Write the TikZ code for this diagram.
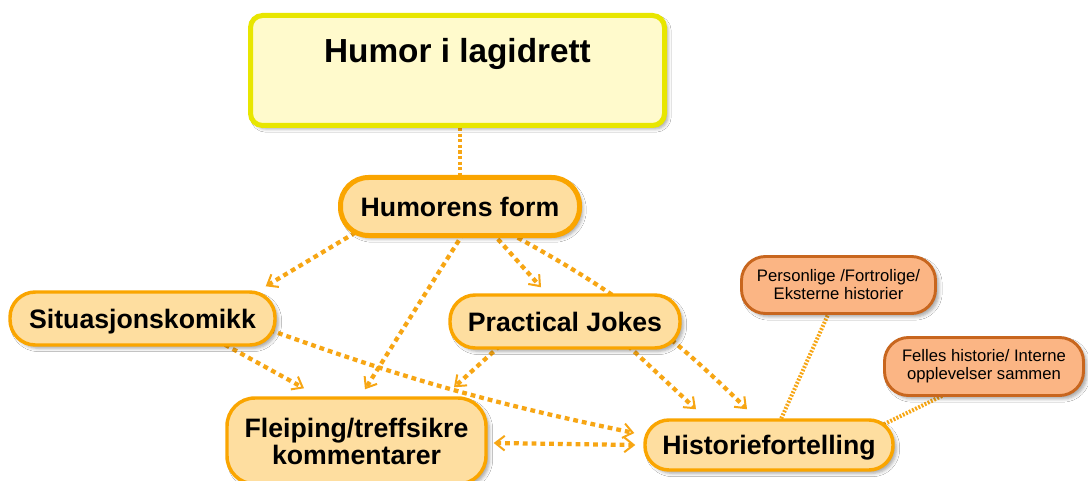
\documentclass[tikz,border=0pt]{standalone}
\usepackage{fontspec}
\setmainfont{Liberation Sans}
\usetikzlibrary{arrows.meta,shadows.blur,backgrounds}

\definecolor{ttlline}{RGB}{232,230,0}
\definecolor{ttlfill}{RGB}{255,250,204}
\definecolor{orline}{RGB}{250,165,0}
\definecolor{orfill}{RGB}{254,222,160}
\definecolor{conn}{RGB}{247,166,20}
\definecolor{brline}{RGB}{200,102,30}
\definecolor{brfill}{RGB}{251,181,132}

\tikzset{
  softshadow/.style={blur shadow={shadow xshift=2.5pt,shadow yshift=-2.5pt,shadow blur radius=2.5pt,shadow opacity=35}},
  titlebox/.style={draw=ttlline, fill=ttlfill, line width=3.75pt, rounded corners=9pt,
    inner sep=0pt, softshadow, font=\fontsize{25}{30}\selectfont\bfseries},
  mainbox/.style={draw=orline, fill=orfill, line width=2.6pt, inner sep=0pt, softshadow,
    font=\fontsize{20}{20.3}\selectfont\bfseries, align=center},
  oneline/.style={text height=14.4pt, text depth=0pt},
  subbox/.style={draw=brline, fill=brfill, line width=2.2pt, inner sep=0pt, rounded corners=18pt,
    softshadow, font=\fontsize{12.5}{13.5}\selectfont, align=center},
  tipV/.tip={Straight Barb[length=7pt,width=11pt,line width=1.5pt]},
  link/.style={draw=conn, line width=3.2pt, dash pattern=on 3.6pt off 3pt, -tipV},
  twolink/.style={draw=conn, line width=3.2pt, dash pattern=on 3.6pt off 3pt, tipV-tipV},
  plainlink/.style={draw=conn, line width=3pt, dash pattern=on 2.4pt off 1.8pt},
  finelink/.style={draw=conn, line width=3pt, dash pattern=on 1.4pt off 1.2pt},
}

\begin{document}
\begin{tikzpicture}[x=0.75pt,y=-0.75pt]
\useasboundingbox (0,0) rectangle (1088,481);

% concept boxes
\node[titlebox, minimum width=310.5pt, minimum height=82.5pt, text height=18.75pt, text depth=30pt]
  (title) at (457.5,70.5) {Humor i lagidrett};
\node[mainbox, oneline, line width=3.75pt, rounded corners=21pt, minimum width=179.25pt, minimum height=43.5pt]
  (hf) at (460,206.5) {Humorens form};
\node[mainbox, oneline, rounded corners=19pt, minimum width=198.75pt, minimum height=39.75pt]
  (sit) at (142.5,318.5) {Situasjonskomikk};
\node[mainbox, oneline, rounded corners=19pt, minimum width=172.5pt, minimum height=39.75pt]
  (pj) at (565,321.5) {Practical Jokes};
\node[mainbox, rounded corners=21pt, minimum width=194.25pt, minimum height=64.5pt]
  (flei) at (356.5,441) {Fleiping/treffsikre\\kommentarer};
\node[mainbox, oneline, rounded corners=18pt, minimum width=186pt, minimum height=37.5pt]
  (hist) at (769,445) {Historiefortelling};
\node[subbox, minimum width=145.5pt, minimum height=42.75pt]
  (pers) at (838.5,285) {Personlige /Fortrolige/\\Eksterne historier};
\node[subbox, minimum width=149.25pt, minimum height=43.5pt]
  (felles) at (984,366.5) {Felles historie/ Interne\\opplevelser sammen};

% links, kept behind the boxes
\begin{scope}[on background layer]
\fill[white] (0,0) rectangle (1088,481);
\draw[plainlink] (hf.north |- title.south) -- (hf.north);
\draw[link] ([shift={(17.5,-5.5)}]hf.south west) -- ([shift={(-11,-4)}]sit.north east);
\draw[link] ([shift={(3.5,-5)}]hf.south) -- ([shift={(8.5,-7)}]flei.north);
\draw[link] ([shift={(32,-5.5)}]hf.south) -- ([shift={(-24,-6)}]pj.north);
\draw[link] ([shift={(50,-4.5)}]hf.south) to[bend left=8] ([shift={(-22,-9)}]hist.north);
\draw[link] ([shift={(82.5,-2)}]sit.south) -- ([shift={(-52.5,-8)}]flei.north);
\draw[link] ([shift={(-7,11.5)}]sit.east) to[bend right=4] ([shift={(-9,-12)}]hist.west);
\draw[link] ([shift={(-65,-4)}]pj.south) -- ([shift={(97.5,-9)}]flei.north);
\draw[link] ([shift={(63,-4)}]pj.south) -- ([shift={(-73,-9)}]hist.north);
\draw[twolink] ([shift={(6,2)}]flei.east) -- ([shift={(-8,0)}]hist.west);
\draw[finelink] ([shift={(-9.5,-2.5)}]pers.south) -- ([shift={(11,3)}]hist.north);
\draw[finelink] ([shift={(-39,-2.5)}]felles.south) -- ([shift={(-13,7)}]hist.north east);
\end{scope}
\end{tikzpicture}
\end{document}
